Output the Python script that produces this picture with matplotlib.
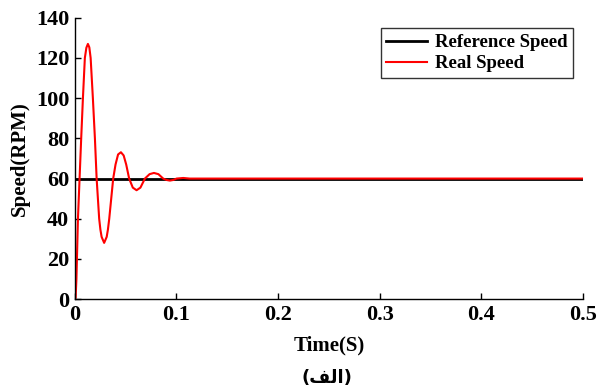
import matplotlib.pyplot as plt

# values
t_ref = [0.0, 0.5]
v_ref = [60, 60]

t_real = [0.0, 0.0007, 0.0015, 0.003, 0.0046, 0.0062, 0.0079, 0.0098, 0.0113,
          0.0128, 0.0142, 0.0155, 0.0177, 0.0197, 0.0214, 0.0239, 0.0251,
          0.0263, 0.0288, 0.0313, 0.0325, 0.0338, 0.0377, 0.0400, 0.0425,
          0.0453, 0.0480, 0.0505, 0.0534, 0.0570, 0.0607, 0.0645, 0.0689,
          0.0735, 0.0778, 0.0822, 0.0869, 0.0902, 0.0935, 0.0968, 0.1001,
          0.1066, 0.1130, 0.5]
v_real = [0, 0.7, 10, 40, 60, 80, 100, 120, 125.1,
          127, 125.3, 120, 100, 80, 60, 40, 34.6,
          31, 28, 31, 34.6, 40, 60, 67, 72,
          73.1, 71.5, 67, 60, 55.5, 54.2, 55.5, 60,
          62.2, 62.8, 62.2, 60, 59.3, 59.0, 59.3, 60,
          60.3, 60, 60]

serif = 'Liberation Serif'

fig = plt.figure(figsize=(6.04, 3.87), dpi=100)
ax = fig.add_axes([0.124, 0.227, 0.841, 0.727])

ax.plot(t_ref, v_ref, color='black', lw=2, label='Reference Speed')
ax.plot(t_real, v_real, color='red', lw=1.5, label='Real Speed')

ax.set_xlim(0, 0.5)
ax.set_ylim(0, 140)
ax.set_xticks([0, 0.1, 0.2, 0.3, 0.4, 0.5])
ax.set_xticklabels(['0', '0.1', '0.2', '0.3', '0.4', '0.5'])
ax.set_yticks(range(0, 141, 20))

for s in ['top', 'right']:
    ax.spines[s].set_visible(False)
for s in ['left', 'bottom']:
    ax.spines[s].set_linewidth(1.0)

ax.tick_params(direction='in', length=4, width=1, pad=4)
for lab in ax.get_xticklabels() + ax.get_yticklabels():
    lab.set_fontfamily(serif)
    lab.set_fontweight('bold')
    lab.set_fontsize(16)

ax.set_xlabel('Time(S)', fontfamily=serif, fontweight='bold', fontsize=15, labelpad=8)
ax.set_ylabel('Speed(RPM)', fontfamily=serif, fontweight='bold', fontsize=15, labelpad=4)

leg = ax.legend(loc='upper right', bbox_to_anchor=(0.981, 0.962),
                prop={'family': serif, 'weight': 'bold', 'size': 13.5},
                frameon=True, fancybox=False, handlelength=2.2,
                borderpad=0.3, labelspacing=0.2, handletextpad=0.4,
                borderaxespad=0.0)
leg.get_frame().set_edgecolor('black')
leg.get_frame().set_linewidth(1.0)

# Persian caption "(الف)" written with presentation forms in visual order
fig.text(0.542, 0.024, '(\uFED2\uFEDF\uFE8D)', ha='center', va='center',
         fontfamily='DejaVu Sans', fontweight='bold', fontsize=13)

fig.savefig('out.png', dpi=100)
